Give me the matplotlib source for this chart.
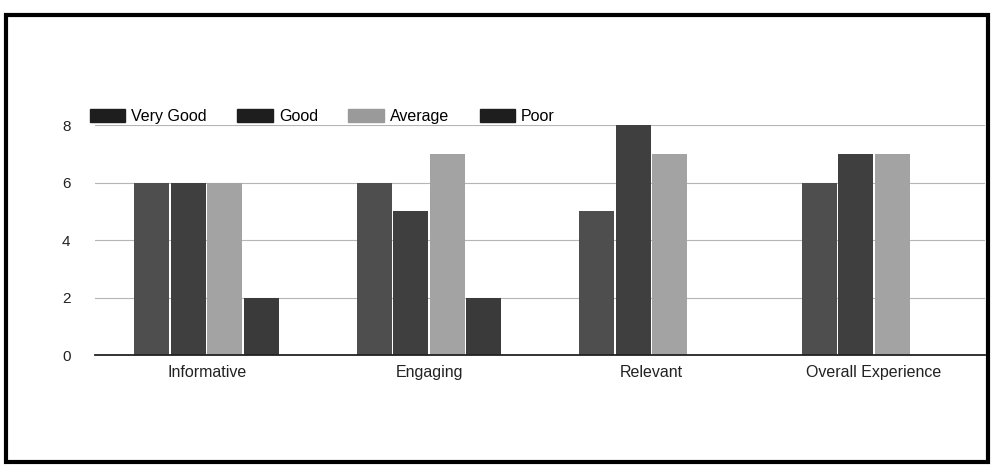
import numpy as np
import matplotlib.pyplot as plt
from matplotlib.patches import Rectangle

# survey results
categories = ["Informative", "Engaging", "Relevant", "Overall Experience"]
series_names = ["Very Good", "Good", "Average", "Poor"]
very_good = [6, 6, 5, 6]
good = [6, 5, 8, 7]
average = [6, 7, 7, 7]
poor = [2, 2, 0, 0]
yticks = [0, 2, 4, 6, 8]

colors = ["#4e4e4e", "#3f3f3f", "#a3a3a3", "#3a3a3a"]

plt.rcParams["font.family"] = ["Liberation Sans", "DejaVu Sans"]

fig = plt.figure(figsize=(9.94, 4.75), dpi=100)
ax = fig.add_axes([0.096, 0.2526, 0.895, 0.4842])

x = np.arange(len(categories))
width = 0.158
step = 0.164
offsets = (np.arange(4) - 1.5) * step
values = [very_good, good, average, poor]

for i in range(4):
    ax.bar(x + offsets[i], values[i], width, color=colors[i],
           label=series_names[i], zorder=3)

ax.set_xlim(-0.5, 3.5)
ax.set_ylim(0, 8)
ax.set_yticks(yticks)
ax.set_xticks(x)
ax.set_xticklabels(categories, fontsize=11.5, color="#222222")
ax.tick_params(axis="y", length=0, pad=18, labelsize=11, labelcolor="#222222")
ax.tick_params(axis="x", length=0, pad=7)
ax.grid(axis="y", color="#b5b5b5", linewidth=0.8, zorder=0)
for s in ["top", "right", "left"]:
    ax.spines[s].set_visible(False)
ax.spines["bottom"].set_color("#222222")
ax.spines["bottom"].set_linewidth(1.3)
ax.spines["bottom"].set_zorder(4)

# legend with the boxes as shown above the plot
handles = [Rectangle((0, 0), 1, 1, color=c) for c in ["#1e1e1e", "#1e1e1e", "#9a9a9a", "#1e1e1e"]]
fig.legend(handles, series_names, loc="center left", bbox_to_anchor=(0.076, 0.755),
           ncol=4, frameon=False, fontsize=11.5, handlelength=2.2, handleheight=0.9,
           handletextpad=0.4, columnspacing=1.9)

# hand-drawn frame around the page
fig.patches.append(Rectangle((0.006, 0.028), 0.988, 0.94, transform=fig.transFigure,
                             fill=False, edgecolor="black", linewidth=3))

fig.savefig("out.png", dpi=100)
